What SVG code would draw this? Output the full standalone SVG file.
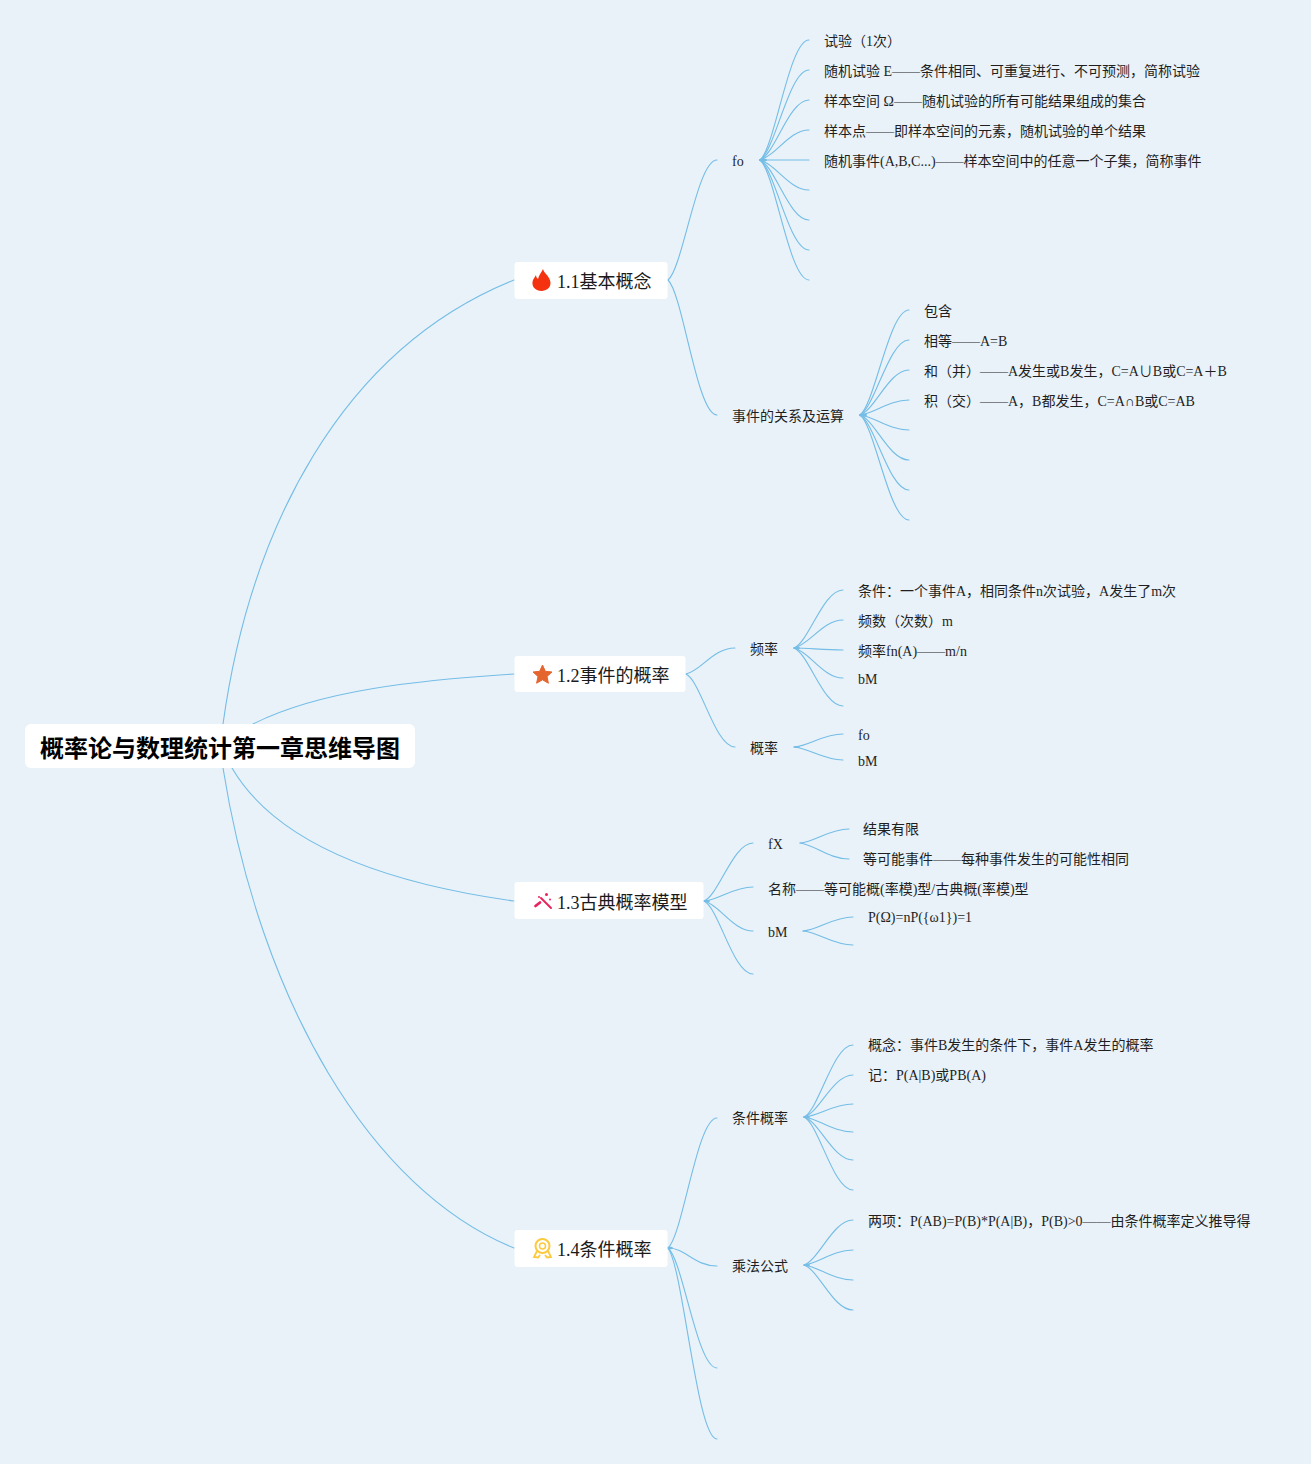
<svg xmlns="http://www.w3.org/2000/svg" width="1311" height="1464" viewBox="0 0 1311 1464">
<style>
text{font-family:"Liberation Serif","Noto Sans CJK SC",serif;font-size:14px;fill:#1f1f1f}
.box{fill:#fff}
.t{font-size:18px;fill:#1a1a1a}
.r{font-size:24px;font-weight:700;fill:#000}
#connectors path{fill:none;stroke:#74bde6;stroke-width:1.100;stroke-linecap:round}
#connectors ellipse{fill:#74bde6}
</style>
<rect width="1311" height="1464" fill="#e9f2f9"/>
<g id="connectors">
<path d="M223 724C250 530 340 350 514 280"/>
<path d="M253 724C320 690 420 680 514 674"/>
<path d="M232 768C280 850 400 885 514 901"/>
<path d="M223 768C260 1000 370 1190 514 1248"/>
<path d="M668 280c15 -12 29 -120 49 -120"/>
<path d="M668 280c15 14 29 135 49 135"/>
<path d="M760 160c15 -12 29 -120 49 -120"/>
<path d="M760 160c15 -9 29 -90 49 -90"/>
<path d="M760 160c15 -6 29 -60 49 -60"/>
<path d="M760 160c15 -3 29 -30 49 -30"/>
<path d="M760 160h49"/>
<path d="M760 160c15 3 29 30 49 30"/>
<path d="M760 160c15 6 29 60 49 60"/>
<path d="M760 160c15 9 29 90 49 90"/>
<path d="M760 160c15 12 29 120 49 120"/>
<path d="M860 415c15 -11 29 -105 49 -105"/>
<path d="M860 415c15 -8 29 -75 49 -75"/>
<path d="M860 415c15 -5 29 -45 49 -45"/>
<path d="M860 415c15 -2 29 -15 49 -15"/>
<path d="M860 415c15 2 29 15 49 15"/>
<path d="M860 415c15 5 29 45 49 45"/>
<path d="M860 415c15 8 29 75 49 75"/>
<path d="M860 415c15 11 29 105 49 105"/>
<path d="M686 674c15 -3 27 -26 49 -26"/>
<path d="M686 674c15 7 29 73 49 73"/>
<path d="M794 648c15 -6 29 -58 49 -58"/>
<path d="M794 648c15 -3 29 -28 49 -28"/>
<path d="M794 648c15 0 29 2 49 2"/>
<path d="M794 648c15 3 29 30 49 30"/>
<path d="M794 648c15 6 29 58 49 58"/>
<path d="M794 747c15 -1 29 -13 49 -13"/>
<path d="M794 747c15 1 29 13 49 13"/>
<path d="M704 901c15 -6 29 -58 49 -58"/>
<path d="M704 901c15 -1 29 -14 49 -14"/>
<path d="M704 901c15 3 29 30 49 30"/>
<path d="M704 901c15 7 29 73 49 73"/>
<path d="M800 843c15 -1 29 -14 49 -14"/>
<path d="M800 843c15 2 29 16 49 16"/>
<path d="M803 931c15 -1 30 -14 50 -14"/>
<path d="M803 931c15 1 30 14 50 14"/>
<path d="M668 1248c15 -13 29 -130 49 -130"/>
<path d="M668 1248c18 0 26 18 49 18"/>
<path d="M668 1248c15 12 29 120 49 120"/>
<path d="M668 1248c15 19 29 191 49 191"/>
<path d="M804 1117c15 -7 29 -72 49 -72"/>
<path d="M804 1117c15 -4 29 -42 49 -42"/>
<path d="M804 1117c15 -1 29 -13 49 -13"/>
<path d="M804 1117c15 2 29 15 49 15"/>
<path d="M804 1117c15 4 29 43 49 43"/>
<path d="M804 1117c15 7 29 73 49 73"/>
<path d="M804 1265c15 -5 29 -45 49 -45"/>
<path d="M804 1265c15 -2 29 -15 49 -15"/>
<path d="M804 1265c15 2 29 15 49 15"/>
<path d="M804 1265c15 5 29 45 49 45"/>
<ellipse cx="763" cy="160" rx="4" ry="1.500"/>
<ellipse cx="863" cy="415" rx="4" ry="1.500"/>
<ellipse cx="797" cy="648" rx="3" ry="1.200"/>
<ellipse cx="797" cy="747" rx="3" ry="1"/>
<ellipse cx="707" cy="901" rx="3" ry="1.300"/>
<ellipse cx="670" cy="1248" rx="3" ry="1.300"/>
<ellipse cx="807" cy="1117" rx="3" ry="1.300"/>
<ellipse cx="807" cy="1265" rx="3" ry="1.200"/>
</g>
<g id="root"><rect class="box" x="25" y="724" width="390" height="44" rx="6"/><text class="r" x="40" y="756.500">概率论与数理统计第一章思维导图</text></g>
<g id="topic-1-1"><rect class="box" x="514.500" y="262" width="153" height="37" rx="3"/>
<path d="M543 269c1 4 4 5 6 9 3 5 2 12-7 13-8 0-11-6-9-11 1-2 2-3 3-5 0 2 1 3 2 4 1-4 3-6 5-10z" fill="#f5320f"/>
<text class="t" x="557" y="288">1.1基本概念</text></g>
<g id="topic-1-2"><rect class="box" x="514.500" y="656" width="171" height="36" rx="3"/>
<path d="M542.500 665l2.800 6.300 6.700.700-5 4.500 1.400 6.700-5.900-3.400-5.900 3.400 1.400-6.700-5-4.500 6.700-.700z" fill="#e5652f" stroke="#e5652f" stroke-linejoin="round"/>
<text class="t" x="557" y="682">1.2事件的概率</text></g>
<g id="topic-1-3"><rect class="box" x="514.500" y="882" width="189" height="37" rx="3"/>
<g fill="none" stroke="#e8245e" stroke-linecap="round"><path d="M541 898l10 10" stroke-width="2"/><path d="M535.500 906l4.500-3.500" stroke-width="2.800"/></g>
<g fill="#e8245e"><circle cx="546.500" cy="894.500" r="1.500"/><circle cx="550" cy="899.500" r="1"/><circle cx="539" cy="897" r="1"/></g>
<text class="t" x="557" y="909">1.3古典概率模型</text></g>
<g id="topic-1-4"><rect class="box" x="514.500" y="1230" width="153" height="37" rx="3"/>
<circle cx="542.500" cy="1246" r="7" fill="none" stroke="#fdc93d" stroke-width="2"/><circle cx="542.500" cy="1246" r="3" fill="none" stroke="#fdc93d" stroke-width="1.500"/>
<path d="M537 1251l-3 6 4 .5 2-2.500M548 1251l3 6-4 .5-2-2.500" fill="none" stroke="#fdc93d" stroke-width="1.800"/>
<text class="t" x="557" y="1256">1.4条件概率</text></g>
<g id="n-fo1"><text x="732" y="166">fo</text></g>
<g id="n-a1"><text x="824" y="46">试验（1次）</text></g>
<g id="n-a2"><text x="824" y="76">随机试验 E——条件相同、可重复进行、不可预测，简称试验</text></g>
<g id="n-a3"><text x="824" y="106">样本空间 Ω——随机试验的所有可能结果组成的集合</text></g>
<g id="n-a4"><text x="824" y="136">样本点——即样本空间的元素，随机试验的单个结果</text></g>
<g id="n-a5"><text x="824" y="166">随机事件(A,B,C...)——样本空间中的任意一个子集，简称事件</text></g>
<g id="n-rel"><text x="732" y="421">事件的关系及运算</text></g>
<g id="n-b1"><text x="924" y="316">包含</text></g>
<g id="n-b2"><text x="924" y="346">相等——A=B</text></g>
<g id="n-b3"><text x="924" y="376">和（并）——A发生或B发生，C=A∪B或C=A＋B</text></g>
<g id="n-b4"><text x="924" y="406">积（交）——A，B都发生，C=A∩B或C=AB</text></g>
<g id="n-freq"><text x="750" y="654">频率</text></g>
<g id="n-c1"><text x="858" y="596">条件：一个事件A，相同条件n次试验，A发生了m次</text></g>
<g id="n-c2"><text x="858" y="626">频数（次数）m</text></g>
<g id="n-c3"><text x="858" y="656">频率fn(A)——m/n</text></g>
<g id="n-c4"><text x="858" y="684">bM</text></g>
<g id="n-prob"><text x="750" y="753">概率</text></g>
<g id="n-d1"><text x="858" y="740">fo</text></g>
<g id="n-d2"><text x="858" y="766">bM</text></g>
<g id="n-fx"><text x="768" y="849">fX</text></g>
<g id="n-e1"><text x="863" y="834">结果有限</text></g>
<g id="n-e2"><text x="863" y="864">等可能事件——每种事件发生的可能性相同</text></g>
<g id="n-e3"><text x="768" y="894">名称——等可能概(率模)型/古典概(率模)型</text></g>
<g id="n-bm3"><text x="768" y="937">bM</text></g>
<g id="n-e4"><text x="868" y="922">P(Ω)=nP({ω1})=1</text></g>
<g id="n-cond"><text x="732" y="1123">条件概率</text></g>
<g id="n-f1"><text x="868" y="1050">概念：事件B发生的条件下，事件A发生的概率</text></g>
<g id="n-f2"><text x="868" y="1080">记：P(A|B)或PB(A)</text></g>
<g id="n-mul"><text x="732" y="1271">乘法公式</text></g>
<g id="n-g1"><text x="868" y="1226">两项：P(AB)=P(B)*P(A|B)，P(B)&gt;0——由条件概率定义推导得</text></g>
</svg>
